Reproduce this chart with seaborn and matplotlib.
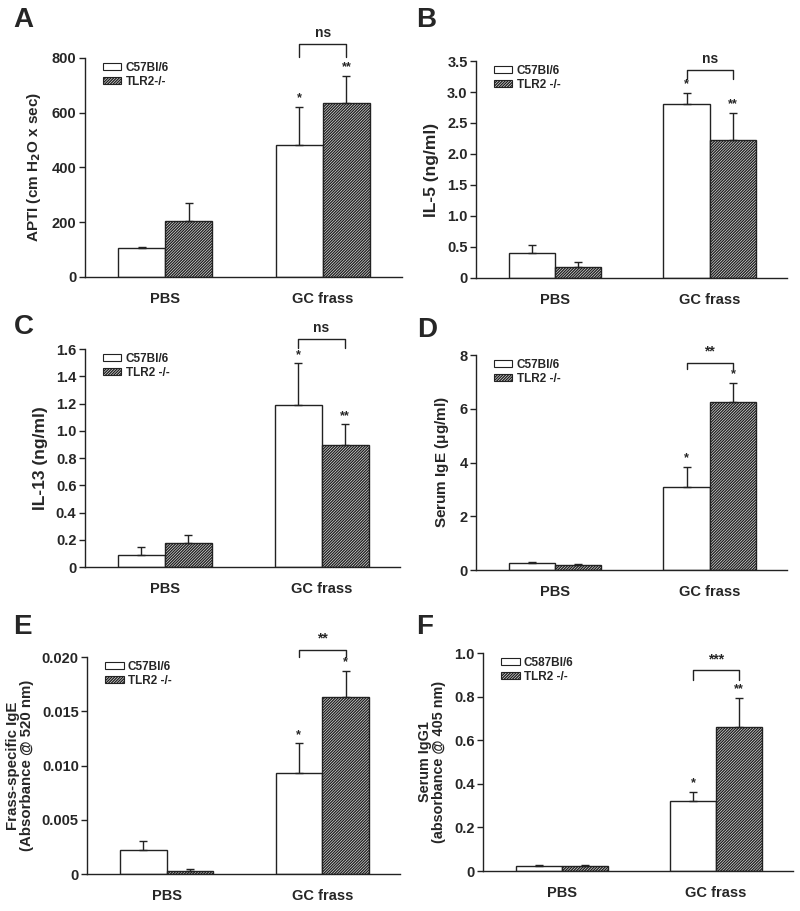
import numpy as np
import pandas as pd
import seaborn as sns
import matplotlib.pyplot as plt
from matplotlib.patches import Patch
from matplotlib.ticker import FuncFormatter

sns.set_style("white")
plt.rcParams["font.family"] = ["Liberation Sans", "DejaVu Sans"]
plt.rcParams["font.weight"] = "bold"
plt.rcParams["hatch.linewidth"] = 1.0
plt.rcParams["hatch.color"] = "#2a2a2a"

groups = ["PBS", "GC frass"]
HATCH = "/" * 12

# values: [PBS, GC frass] per strain, with upper error (SEM)
apti_wt = [104, 481]
apti_wt_err = [4, 139]
apti_ko = [205, 637]
apti_ko_err = [66, 98]

il5_wt = [0.40, 2.80]
il5_wt_err = [0.13, 0.18]
il5_ko = [0.18, 2.22]
il5_ko_err = [0.07, 0.44]

il13_wt = [0.091, 1.19]
il13_wt_err = [0.056, 0.305]
il13_ko = [0.176, 0.895]
il13_ko_err = [0.062, 0.152]

ige_wt = [0.25, 3.10]
ige_wt_err = [0.06, 0.75]
ige_ko = [0.17, 6.24]
ige_ko_err = [0.05, 0.71]

frass_wt = [0.00217, 0.00928]
frass_wt_err = [0.00083, 0.00276]
frass_ko = [0.00025, 0.01636]
frass_ko_err = [0.00025, 0.00235]

igg1_wt = [0.023, 0.32]
igg1_wt_err = [0.005, 0.042]
igg1_ko = [0.021, 0.66]
igg1_ko_err = [0.007, 0.135]

panels = [
    dict(letter="A", wt=apti_wt, wte=apti_wt_err, ko=apti_ko, koe=apti_ko_err,
         ylabel="APTI (cm H$_\\mathbf{2}$O x sec)", ylsize=11, ylim=800, ticks=[0, 200, 400, 600, 800],
         labels=["C57Bl/6", "TLR2-/-"], stars=["*", "**"], bracket="ns", btop=850, bleg=805,
         pos=[0.106, 0.696, 0.396, 0.2404], fmt="{:.0f}", lxy=(23, 20)),
    dict(letter="B", wt=il5_wt, wte=il5_wt_err, ko=il5_ko, koe=il5_ko_err,
         ylabel="IL-5 (ng/ml)", ylsize=12.5, ylim=3.5, ticks=np.arange(0, 3.51, 0.5),
         labels=["C57Bl/6", "TLR2 -/-"], stars=["*", "**"], bracket="ns", btop=3.35, bleg=3.21,
         pos=[0.595, 0.695, 0.389, 0.238], fmt="{:.1f}", lxy=(426, 20)),
    dict(letter="C", wt=il13_wt, wte=il13_wt_err, ko=il13_ko, koe=il13_ko_err,
         ylabel="IL-13 (ng/ml)", ylsize=12.5, ylim=1.6, ticks=np.arange(0, 1.61, 0.2),
         labels=["C57Bl/6", "TLR2 -/-"], stars=["*", "**"], bracket="ns", btop=1.67, bleg=1.61,
         pos=[0.106, 0.3776, 0.394, 0.2393], fmt="{:.1f}", lxy=(24, 327)),
    dict(letter="D", wt=ige_wt, wte=ige_wt_err, ko=ige_ko, koe=ige_ko_err,
         ylabel="Serum IgE ($\\mathregular{\\mu}$g/ml)", ylsize=11, ylim=8, ticks=[0, 2, 4, 6, 8],
         labels=["C57Bl/6", "TLR2 -/-"], stars=["*", "*"], bracket="**", btop=7.72, bleg=7.47,
         pos=[0.595, 0.3743, 0.389, 0.236], fmt="{:.0f}", lxy=(427, 330)),
    dict(letter="E", wt=frass_wt, wte=frass_wt_err, ko=frass_ko, koe=frass_ko_err,
         ylabel="Frass-specific IgE\n(Absorbance @ 520 nm)", ylsize=10.8, ylim=0.020,
         ticks=[0, 0.005, 0.010, 0.015, 0.020],
         labels=["C57Bl/6", "TLR2 -/-"], stars=["*", "*"], bracket="**", btop=0.02067, bleg=0.0200,
         pos=[0.109, 0.0406, 0.391, 0.2382], fmt="{:.3f}", lxy=(22, 627)),
    dict(letter="F", wt=igg1_wt, wte=igg1_wt_err, ko=igg1_ko, koe=igg1_ko_err,
         ylabel="Serum IgG1\n(absorbance @ 405 nm)", ylsize=10.4, ylim=1.0, ticks=np.arange(0, 1.01, 0.2),
         labels=["C587Bl/6", "TLR2 -/-"], stars=["*", "**"], bracket="***", btop=0.92, bleg=0.877,
         pos=[0.604, 0.0439, 0.3875, 0.2393], fmt="{:.1f}", lxy=(425, 627)),
]

W, H = 800, 911
fig = plt.figure(figsize=(W / 100, H / 100), dpi=100)

for p in panels:
    ax = fig.add_axes(p["pos"])
    df = pd.DataFrame({
        "group": groups * 2,
        "strain": [p["labels"][0]] * 2 + [p["labels"][1]] * 2,
        "value": list(p["wt"]) + list(p["ko"]),
        "err": list(p["wte"]) + list(p["koe"]),
    })
    sns.barplot(data=df, x="group", y="value", hue="strain", palette=["white", "white"],
                edgecolor="#222222", linewidth=1.0, width=0.6, errorbar=None,
                legend=False, ax=ax)
    bars = ax.patches[:4]
    # bars come out strain by strain: wt PBS, wt GC, ko PBS, ko GC
    for i, b in enumerate(bars):
        if i >= 2:
            b.set_hatch(HATCH)
        cx = b.get_x() + b.get_width() / 2
        top = b.get_height()
        e = df["err"].iloc[i]
        ax.errorbar(cx, top, yerr=[[0], [e]], fmt="none", ecolor="#222222",
                    elinewidth=1.0, capsize=3, capthick=1.0, zorder=1)
    # stars above GC frass bars
    for i, s in zip([1, 3], p["stars"]):
        b = bars[i]
        cx = b.get_x() + b.get_width() / 2
        ax.text(cx, b.get_height() + df["err"].iloc[i] + p["ylim"] * 0.012, s,
                ha="center", va="bottom", fontsize=9, fontweight="bold")
    x1 = bars[1].get_x() + bars[1].get_width() / 2
    x2 = bars[3].get_x() + bars[3].get_width() / 2
    ax.plot([x1, x1, x2, x2], [p["bleg"], p["btop"], p["btop"], p["bleg"]],
            color="#222222", lw=1.0, clip_on=False)
    ax.text((x1 + x2) / 2, p["btop"] + p["ylim"] * 0.02, p["bracket"],
            ha="center", va="bottom", fontsize=10, fontweight="bold")

    ax.set_xlim(-0.51, 1.5)
    ax.set_ylim(0, p["ylim"])
    ax.set_yticks(p["ticks"])
    fmt = p["fmt"]
    ax.yaxis.set_major_formatter(FuncFormatter(lambda v, _, f=fmt: "0" if abs(v) < 1e-12 else f.format(v)))
    ax.tick_params(axis="y", direction="out", length=4, width=1, color="#222222",
                   labelsize=10.5, left=True, pad=2)
    ax.tick_params(axis="x", length=0, labelsize=10.5, pad=11)
    for lab in ax.get_xticklabels() + ax.get_yticklabels():
        lab.set_fontweight("bold")
    ax.set_xlabel("")
    ax.set_ylabel(p["ylabel"], fontsize=p["ylsize"], fontweight="bold", labelpad=6, linespacing=0.95)
    sns.despine(ax=ax)
    for sp in ["left", "bottom"]:
        ax.spines[sp].set_color("#222222")
        ax.spines[sp].set_linewidth(1.0)
    handles = [Patch(facecolor="white", edgecolor="#222222", lw=0.8, label=p["labels"][0]),
               Patch(facecolor="white", edgecolor="#222222", lw=0.8, hatch=HATCH,
                     label=p["labels"][1])]
    ax.legend(handles=handles, loc="upper left", bbox_to_anchor=(0.03, 1.02), frameon=False,
              handlelength=1.6, handleheight=0.55, labelspacing=0.15,
              handletextpad=0.35, borderpad=0.2,
              prop={"weight": "bold", "size": 8.5})
    fig.text(p["lxy"][0] / W, 1 - p["lxy"][1] / H, p["letter"], fontsize=20,
             fontweight="bold", ha="center", va="center")

fig.savefig("out.png", dpi=100)
